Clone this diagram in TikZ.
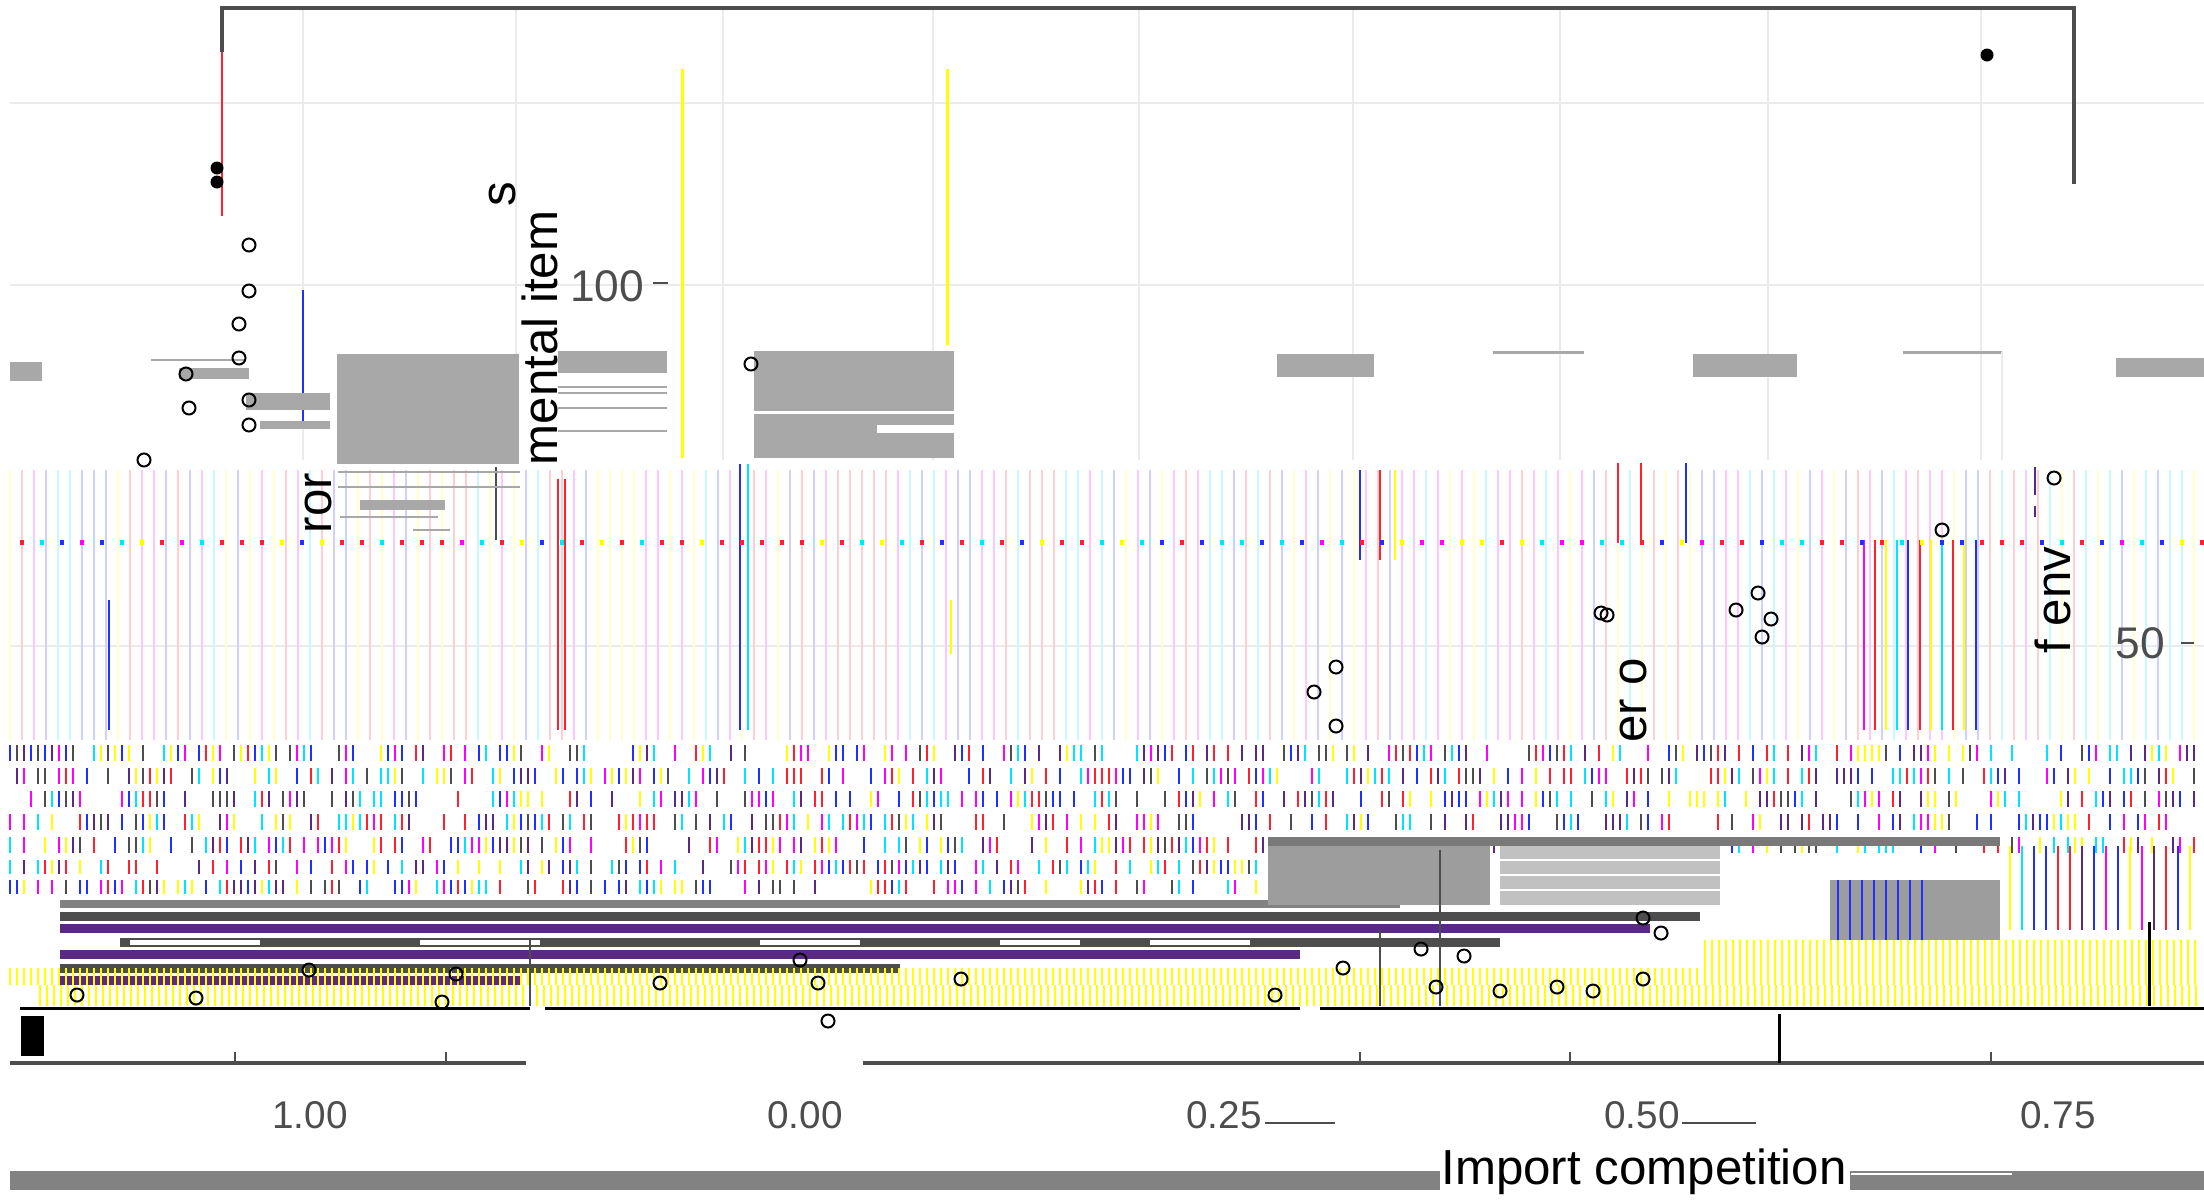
\documentclass[tikz,border=0pt]{standalone}
\usepackage{fontspec}
\setmainfont{Liberation Sans}
\definecolor{axg}{HTML}{4D4D4D}
\definecolor{gridc}{HTML}{EBEBEB}
\definecolor{barg}{HTML}{A8A8A8}
\definecolor{purp}{HTML}{5A2A82}
\definecolor{cy}{HTML}{00E5FF}
\definecolor{mg}{HTML}{FF00FF}
\definecolor{ye}{HTML}{FFFF00}
\definecolor{bl}{HTML}{2030FF}
\definecolor{rd}{HTML}{FF2030}
\newcommand{\pickcol}[1]{\ifcase#1 \def\cc{cy}\or\def\cc{mg}\or\def\cc{ye}\or\def\cc{bl}\or\def\cc{rd}\or\def\cc{purp}\else\def\cc{axg}\fi}
\begin{document}
\begin{tikzpicture}[x=0.01cm,y=-0.01cm,
  grid/.style={gridc,line width=0.025cm},
  bar/.style={fill=barg,draw=none},
  dot/.style={circle,draw=black,line width=0.02cm,minimum size=0.13cm,inner sep=0pt},
  fdot/.style={circle,fill=black,minimum size=0.13cm,inner sep=0pt},
  tick/.style={axg,line width=0.025cm},
  ticklab/.style={text=axg,font=\fontsize{11}{13}\selectfont,inner sep=0pt},
  ttl/.style={text=black,font=\fontsize{14}{16}\selectfont,inner sep=0pt}]
\useasboundingbox (0,0) rectangle (2204,1199);
\fill[white] (0,0) rectangle (2204,1199);
% grid
\foreach \y in {103,285,646} \draw[grid] (10,\y) -- (2204,\y);
\foreach \x in {303,516,723,933,1139,1353,1560,1768,1981} \draw[grid] (\x,10) -- (\x,460);
% frame
\draw[axg,line width=0.04cm] (222,52) -- (222,8) -- (2074,8) -- (2074,184);
\draw[rd,line width=0.02cm] (222,52) -- (222,216);
\draw[bl,line width=0.02cm] (303,290) -- (303,425);
% yellow verticals
\draw[ye,line width=0.03cm] (682,69) -- (682,458);
\draw[ye,line width=0.03cm] (947,69) -- (947,345);
% light stripes in lower region
\pgfmathsetseed{42}
\foreach \x in {10,22,...,2200}{
  \pgfmathrandominteger{\c}{0}{4}\pickcol{\c}
  \draw[\cc!22,line width=0.015cm] (\x,470) -- (\x,740);
}
% strong stripes
\foreach \x/\c/\a/\b in {558/rd/479/730,565/rd/479/730,740/bl/464/730,748/cy/464/730,109/bl/600/730,951/ye/600/654,496/axg/467/540,
  1618/rd/463/543,1641/rd/463/543,1686/bl/463/543,
  1864/mg/540/730,1875/rd/540/730,1886/ye/540/730,1897/cy/540/730,1908/bl/540/730,1920/rd/540/730,1931/ye/540/730,1942/cy/540/730,1953/rd/540/730,1964/ye/540/730,1976/bl/540/730,
  1360/bl/470/560,1380/rd/470/560,1395/ye/470/560}
  \draw[\c,line width=0.02cm] (\x,\a) -- (\x,\b);
\draw[purp,line width=0.02cm,dash pattern=on 8pt off 3pt] (2035,467) -- (2035,517);
% gray bars
\fill[bar] (10,362) rectangle (42,381);
\draw[barg,line width=0.02cm] (151,360) -- (246,360);
\fill[bar] (179,368) rectangle (249,379);
\fill[bar] (246,393) rectangle (330,410);
\fill[bar] (260,421) rectangle (330,429);
\fill[bar] (337,354) rectangle (519,464);
\fill[bar] (558,351) rectangle (667,373);
\foreach \y in {387,393,408,431} \draw[barg,line width=0.02cm] (558,\y) -- (667,\y);
\fill[bar] (754,351) rectangle (954,458);
\draw[white,line width=0.03cm] (754,412) -- (954,412);
\fill[white] (877,425) rectangle (954,433);
\fill[bar] (1277,354) rectangle (1374,377);
\draw[barg,line width=0.03cm] (1493,352) -- (1584,352);
\fill[bar] (1693,354) rectangle (1797,377);
\draw[barg,line width=0.03cm] (1903,352) -- (2002,352);
\draw[gridc,line width=0.02cm] (2002,352) -- (2002,460);
\fill[bar] (2116,358) rectangle (2204,377);
\foreach \y/\a/\b in {472/338/520,487/338/520,517/340/438,530/413/450} \draw[barg,line width=0.02cm] (\a,\y) -- (\b,\y);
\fill[bar] (360,500) rectangle (445,510);
% dotted row
\foreach \x in {20,40,...,2200}{
  \pgfmathrandominteger{\c}{0}{4}\pickcol{\c}
  \fill[\cc] (\x,540) rectangle +(4,5);
}
% dense band B
\pgfmathsetseed{7}
\foreach \y in {745,768,791,814,837}{
  \foreach \x in {10,17,...,2195}{
    \pgfmathrandominteger{\c}{0}{11}
    \ifnum\c<7 \pickcol{\c}\draw[\cc,line width=0.02cm] (\x,\y) -- (\x,\y+16);\fi
  }
}
\foreach \y in {860,880}{
  \foreach \x in {10,17,...,1260}{
    \pgfmathrandominteger{\c}{0}{11}
    \ifnum\c<7 \pickcol{\c}\draw[\cc,line width=0.02cm] (\x,\y) -- (\x,\y+14);\fi
  }
}
% band C: bars left
\fill[axg!70] (60,900) rectangle (1400,908);
\foreach \y/\a/\b/\col in {912/60/1700/axg,924/60/1650/purp,938/120/1500/axg,950/60/1300/purp,964/60/900/axg,976/60/520/purp}
  \fill[\col] (\a,\y) rectangle (\b,\y+9);
\foreach \a/\b in {130/260,420/540,760/860,1000/1080,1150/1250} \fill[white] (\a,940) rectangle (\b,945);
% band C: right blocks
\fill[axg!75] (1268,837) rectangle (2000,846);
\fill[axg!55] (1268,846) rectangle (1490,905);
\fill[axg!35] (1500,846) rectangle (1720,905);
\foreach \y in {860,875,890} \draw[white,line width=0.02cm] (1500,\y) -- (1720,\y);
\fill[axg!55] (1830,880) rectangle (2000,940);
\foreach \x in {1838,1850,...,1930} \draw[bl,line width=0.025cm] (\x,880) -- (\x,940);
\foreach \x in {2010,2022,...,2190}{
  \pgfmathrandominteger{\c}{0}{5}\pickcol{\c}
  \draw[\cc,line width=0.025cm] (\x,846) -- (\x,930);
}
% yellow stripes
\foreach \x in {40,47,...,2200} \draw[ye,line width=0.022cm] (\x,985) -- (\x,1006);
\foreach \x in {1705,1712,...,2200} \draw[ye,line width=0.022cm] (\x,940) -- (\x,985);
\foreach \x in {10,17,...,1700} \draw[ye,line width=0.022cm] (\x,968) -- (\x,985);
\draw[black,line width=0.03cm] (2149,922) -- (2149,1006);
\draw[axg,line width=0.025cm] (530,940) -- (530,1006);
\draw[axg,line width=0.025cm] (1380,930) -- (1380,1006);
\draw[axg,line width=0.025cm] (1440,850) -- (1440,1006);
% open points
\foreach \p/\q in {249/245,249/291,239/324,239/358,186/374,189/408,249/400,249/425,144/460,751/364,
  309/970,456/974,442/1002,77/995,196/998,800/960,818/983,961/979,660/983,828/1021,
  1421/949,1464/956,1436/987,1500/991,1593/991,1643/979,1661/933,1557/987,1275/995,1343/968,1643/918,
  2054/478,1942/530,1601/613,1758/593,1762/637,1736/610,1607/615,1771/619,1336/667,1314/692,1336/726}
  \node[dot] at (\p,\q) {};
\node[fdot] (pa) at (217,168) {};
\node[fdot] (pb) at (217,182) {};
\node[fdot] (pc) at (1987,55) {};
% lower black lines
\draw[black,line width=0.03cm] (20,1008) -- (530,1008) (545,1008) -- (1300,1008) (1320,1008) -- (2204,1008);
\fill[black] (21,1016) rectangle (44,1056);
\draw[axg,line width=0.035cm] (10,1063) -- (526,1063) (863,1063) -- (2204,1063);
\foreach \x in {235,446,1360,1570,1991} \draw[tick] (\x,1052) -- (\x,1063);
\draw[black,line width=0.03cm] (1779,1014) -- (1779,1063);
\draw[axg,line width=0.025cm] (1265,1123) -- (1335,1123) (1682,1123) -- (1756,1123);
% bottom band
\fill[axg!70] (10,1171) rectangle (1440,1190);
\fill[axg!70] (1850,1171) rectangle (2204,1190);
\draw[white,line width=0.02cm] (1851,1174) -- (2012,1174);
% texts
\node[ticklab,font=\fontsize{12.6}{14}\selectfont] (t100) at (607,286) {100};
\draw[tick] (653,283) -- (668,283);
\node[ticklab,font=\fontsize{12.6}{14}\selectfont] (t50) at (2140,643) {50};
\draw[tick] (2181,643) -- (2194,643);
\node[ticklab] (x1) at (310,1115) {1.00};
\node[ticklab] (x2) at (805,1115) {0.00};
\node[ticklab] (x3) at (1224,1115) {0.25};
\node[ticklab] (x4) at (1642,1115) {0.50};
\node[ticklab] (x5) at (2058,1115) {0.75};
\node[ttl] (xt) at (1644,1172) {Import competition};
\node[ttl,rotate=90] (ya) at (540,338) {mental item};
\node[ttl,rotate=90] (yb) at (503,194) {s};
\node[ttl,rotate=90] (yc) at (318,503) {ror};
\node[ttl,rotate=90] (yd) at (1633,700) {er o};
\node[ttl,rotate=90] (ye) at (2053,600) {f env};
\end{tikzpicture}
\end{document}
